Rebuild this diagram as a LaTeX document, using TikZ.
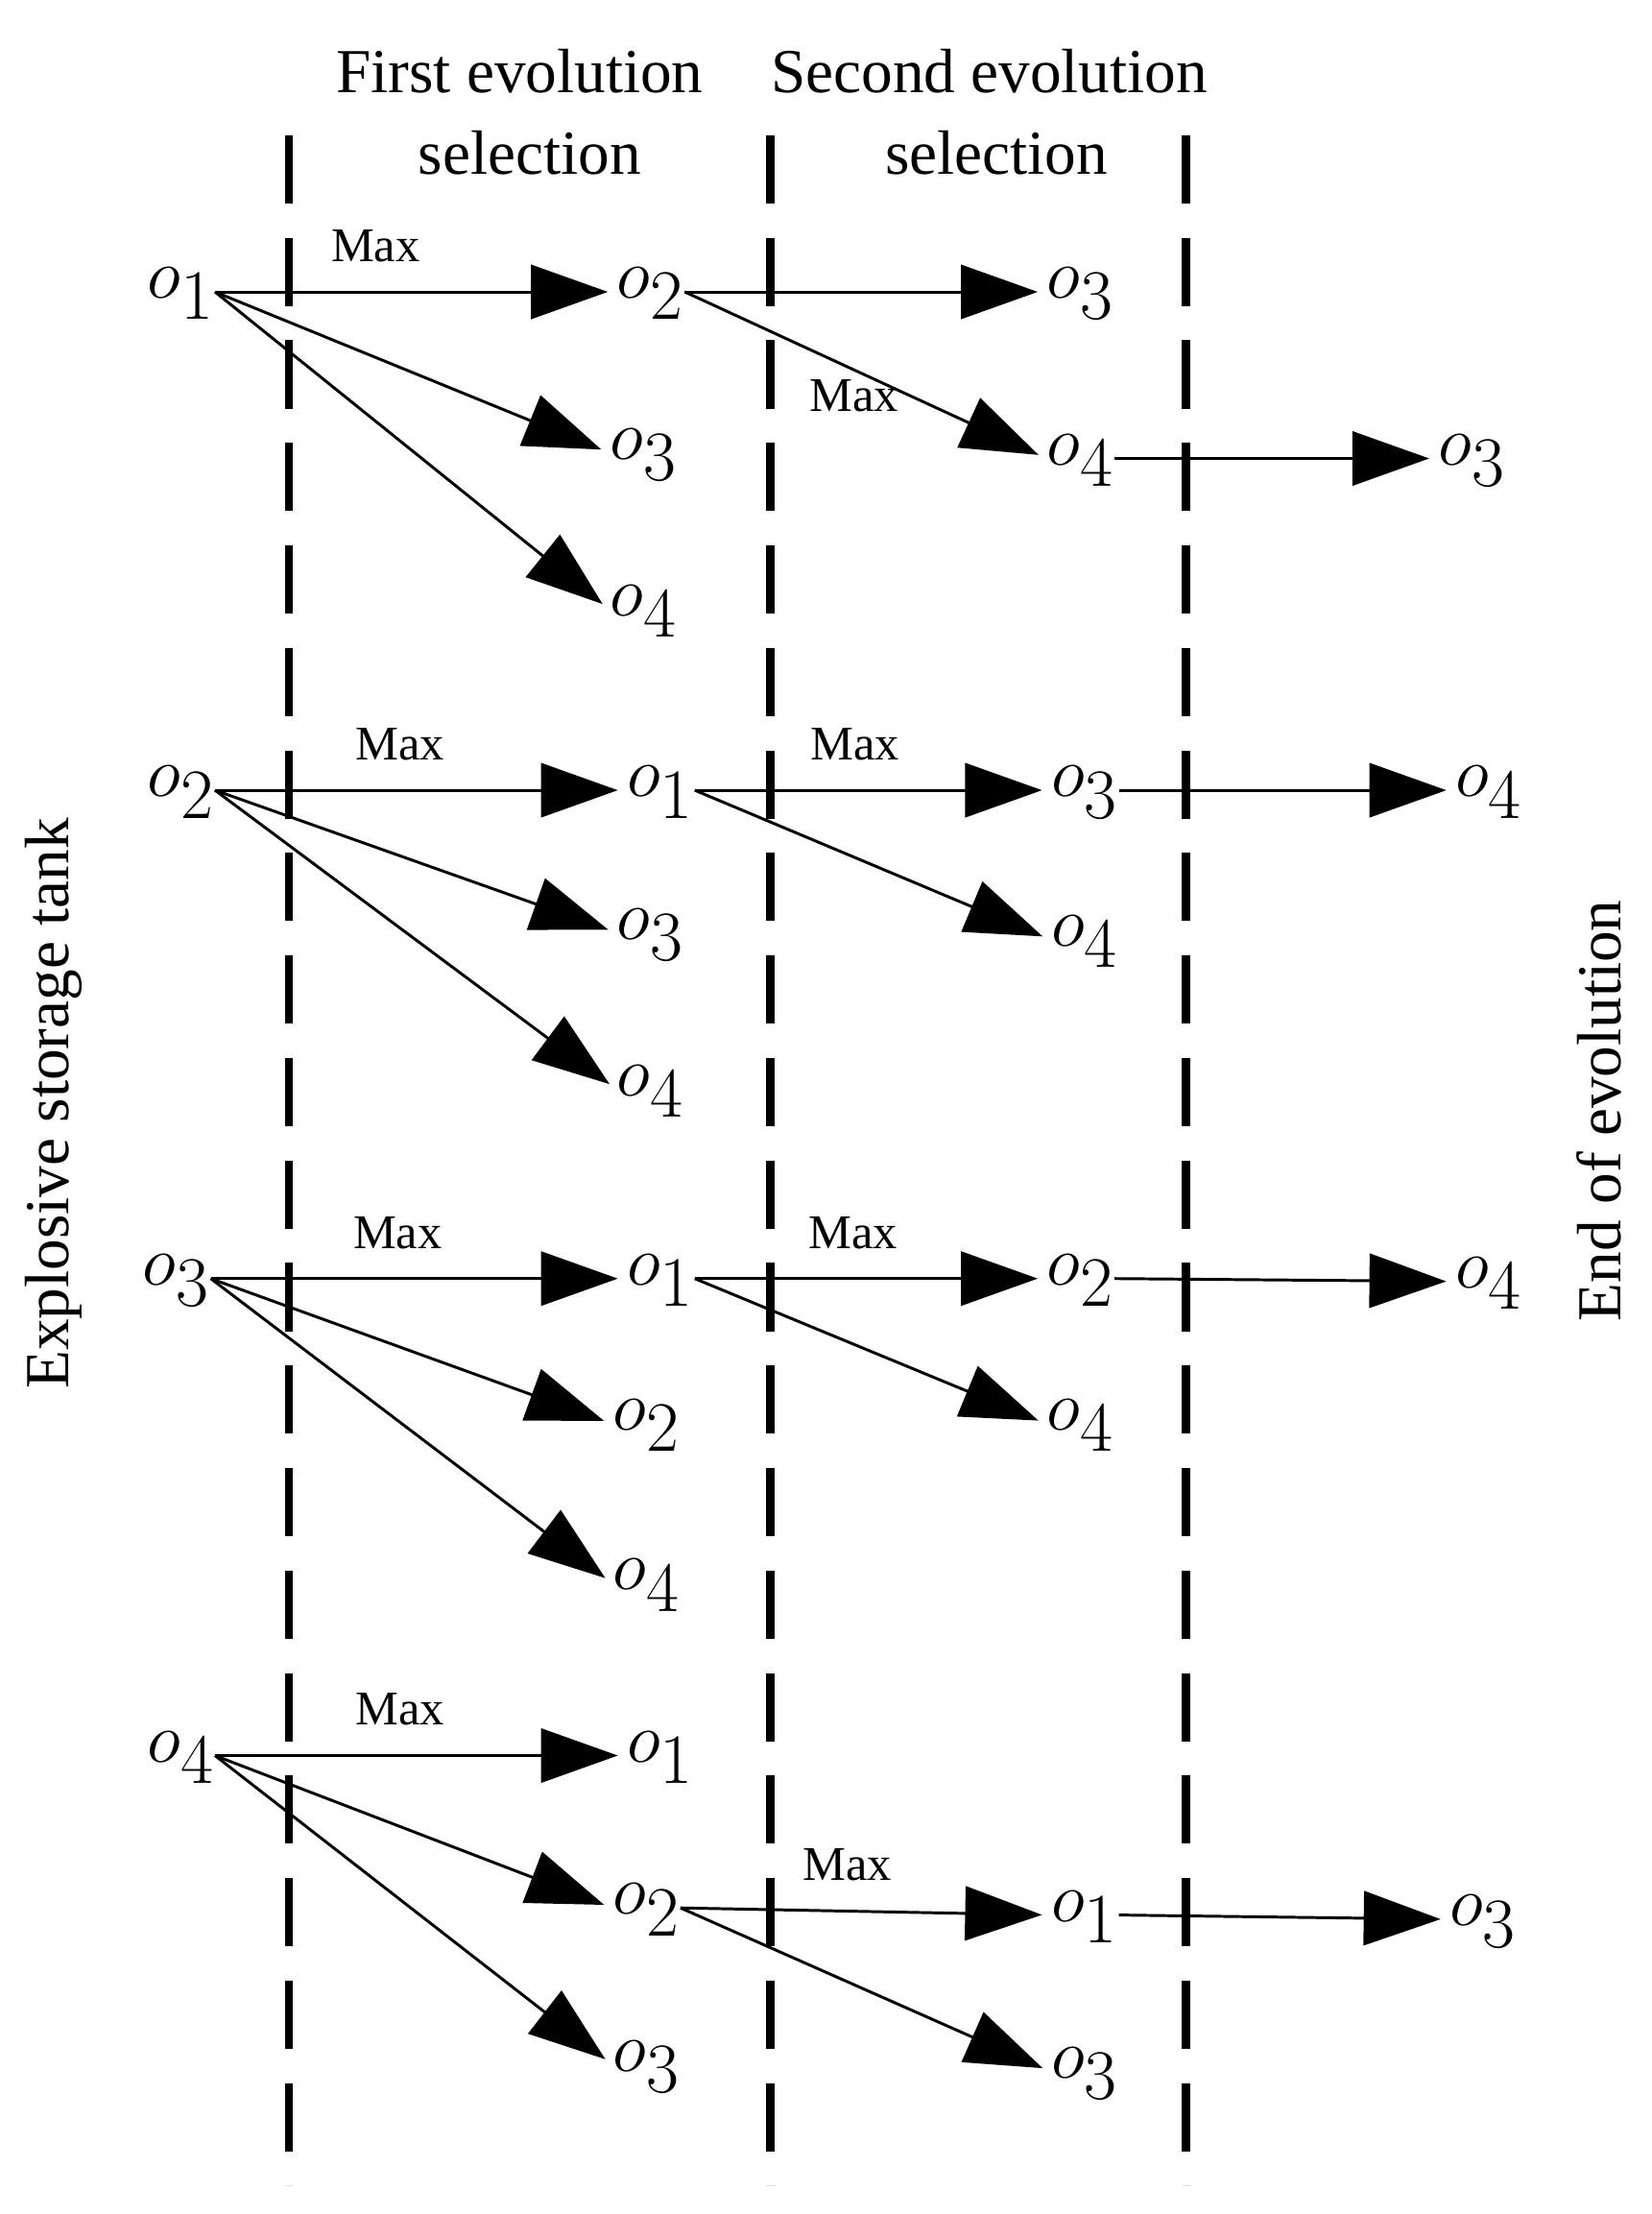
\documentclass[tikz,border=0pt]{standalone}
\usepackage{fontspec}
\setmainfont{Liberation Serif}
\usetikzlibrary{arrows.meta}
\begin{document}
\begin{tikzpicture}[x=0.5pt,y=-0.5pt,
  o/.style={font=\fontsize{34}{34}\selectfont,inner sep=0pt,anchor=mid west},
  ar/.style={line width=1pt,-{Triangle[length=27pt,width=19pt]},shorten >=3pt},
  mx/.style={font=\fontsize{17}{17}\selectfont,inner sep=0pt},
  hd/.style={font=\fontsize{22}{22}\selectfont,inner sep=0pt},
  dl/.style={line width=3pt,dash pattern=on 24pt off 12pt}]
\useasboundingbox (0,0) rectangle (1160,1555);
\draw[dl] (203,95) coordinate (t1) -- (203,1535) coordinate (b1);
\draw[dl] (541,95) coordinate (t2) -- (541,1535) coordinate (b2);
\draw[dl] (833,95) coordinate (t3) -- (833,1535) coordinate (b3);
\node[hd] (h1) at (365,50) {First evolution};
\node[hd] (h2) at (372,107) {selection};
\node[hd] (h3) at (695,50) {Second evolution};
\node[hd] (h4) at (700,107) {selection};
\node[hd,rotate=90] (l) at (38,775) {Explosive storage tank};
\node[hd,rotate=90] (r) at (1123,780) {End of evolution};
% group 1
\node[o] (a1) at (103,205) {$o_1$};
\node[o] (a1b2) at (433,205) {$o_2$};
\node[o] (a1b3) at (428,318) {$o_3$};
\node[o] (a1b4) at (428,428) {$o_4$};
\node[o] (a1c3) at (735,205) {$o_3$};
\node[o] (a1c4) at (735,322) {$o_4$};
\node[o] (a1d3) at (1010,322) {$o_3$};
\draw[ar] (a1.mid east) -- node[mx,above=10pt,pos=0.4]{Max} (a1b2.mid west);
\draw[ar] (a1.mid east) -- (a1b3.mid west);
\draw[ar] (a1.mid east) -- (a1b4.mid west);
\draw[ar] (a1b2.mid east) -- (a1c3.mid west);
\draw[ar] (a1b2.mid east) -- (a1c4.mid west);
\node[mx] (m1) at (600,278) {Max};
\draw[ar] (a1c4.mid east) -- (a1d3.mid west);
% group 2
\node[o] (a2) at (103,555) {$o_2$};
\node[o] (a2b1) at (440,555) {$o_1$};
\node[o] (a2b3) at (433,655) {$o_3$};
\node[o] (a2b4) at (433,765) {$o_4$};
\node[o] (a2c3) at (738,555) {$o_3$};
\node[o] (a2c4) at (738,660) {$o_4$};
\node[o] (a2d4) at (1022,555) {$o_4$};
\draw[ar] (a2.mid east) -- node[mx,above=10pt,pos=0.45]{Max} (a2b1.mid west);
\draw[ar] (a2.mid east) -- (a2b3.mid west);
\draw[ar] (a2.mid east) -- (a2b4.mid west);
\draw[ar] (a2b1.mid east) -- node[mx,above=10pt,pos=0.45]{Max} (a2c3.mid west);
\draw[ar] (a2b1.mid east) -- (a2c4.mid west);
\draw[ar] (a2c3.mid east) -- (a2d4.mid west);
% group 3
\node[o] (a3) at (100,898) {$o_3$};
\node[o] (a3b1) at (440,898) {$o_1$};
\node[o] (a3b2) at (430,1000) {$o_2$};
\node[o] (a3b4) at (430,1112) {$o_4$};
\node[o] (a3c2) at (735,898) {$o_2$};
\node[o] (a3c4) at (735,1000) {$o_4$};
\node[o] (a3d4) at (1022,900) {$o_4$};
\draw[ar] (a3.mid east) -- node[mx,above=10pt,pos=0.45]{Max} (a3b1.mid west);
\draw[ar] (a3.mid east) -- (a3b2.mid west);
\draw[ar] (a3.mid east) -- (a3b4.mid west);
\draw[ar] (a3b1.mid east) -- node[mx,above=10pt,pos=0.45]{Max} (a3c2.mid west);
\draw[ar] (a3b1.mid east) -- (a3c4.mid west);
\draw[ar] (a3c2.mid east) -- (a3d4.mid west);
% group 4
\node[o] (a4) at (103,1233) {$o_4$};
\node[o] (a4b1) at (440,1233) {$o_1$};
\node[o] (a4b2) at (430,1340) {$o_2$};
\node[o] (a4b3) at (430,1450) {$o_3$};
\node[o] (a4c1) at (738,1345) {$o_1$};
\node[o] (a4c3) at (738,1455) {$o_3$};
\node[o] (a4d3) at (1018,1348) {$o_3$};
\draw[ar] (a4.mid east) -- node[mx,above=10pt,pos=0.45]{Max} (a4b1.mid west);
\draw[ar] (a4.mid east) -- (a4b2.mid west);
\draw[ar] (a4.mid east) -- (a4b3.mid west);
\draw[ar] (a4b2.mid east) -- node[mx,above=10pt,pos=0.45]{Max} (a4c1.mid west);
\draw[ar] (a4b2.mid east) -- (a4c3.mid west);
\draw[ar] (a4c1.mid east) -- (a4d3.mid west);
\end{tikzpicture}
\end{document}
